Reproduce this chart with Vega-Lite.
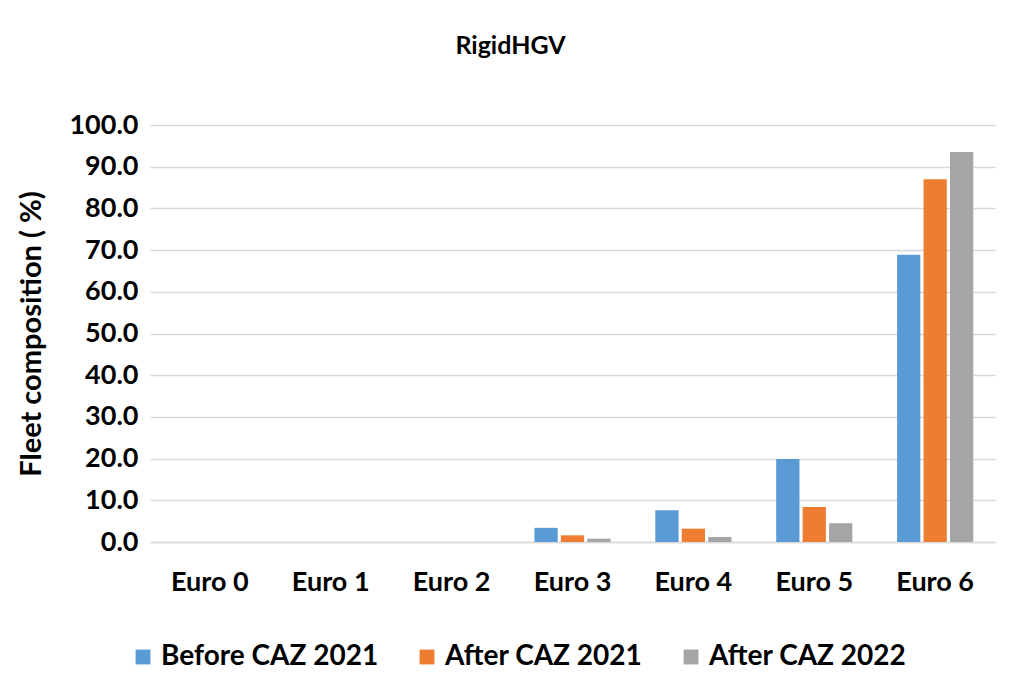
{
  "$schema": "https://vega.github.io/schema/vega-lite/v6.json",
  "width": 845,
  "height": 417,
  "autosize": {"type": "none"},
  "padding": {"left": 150, "top": 125, "right": 15, "bottom": 144},
  "background": "white",
  "title": {"text": "RigidHGV", "font": "Lato", "fontSize": 25, "fontWeight": "bold", "color": "#000000", "anchor": "middle", "dx": -62, "offset": 52},
  "data": {"values": [
    {"euro": "Euro 0", "series": "Before CAZ 2021", "value": 0},
    {"euro": "Euro 0", "series": "After CAZ 2021", "value": 0},
    {"euro": "Euro 0", "series": "After CAZ 2022", "value": 0},
    {"euro": "Euro 1", "series": "Before CAZ 2021", "value": 0},
    {"euro": "Euro 1", "series": "After CAZ 2021", "value": 0},
    {"euro": "Euro 1", "series": "After CAZ 2022", "value": 0},
    {"euro": "Euro 2", "series": "Before CAZ 2021", "value": 0},
    {"euro": "Euro 2", "series": "After CAZ 2021", "value": 0},
    {"euro": "Euro 2", "series": "After CAZ 2022", "value": 0},
    {"euro": "Euro 3", "series": "Before CAZ 2021", "value": 3.4},
    {"euro": "Euro 3", "series": "After CAZ 2021", "value": 1.6},
    {"euro": "Euro 3", "series": "After CAZ 2022", "value": 0.8},
    {"euro": "Euro 4", "series": "Before CAZ 2021", "value": 7.6},
    {"euro": "Euro 4", "series": "After CAZ 2021", "value": 3.2},
    {"euro": "Euro 4", "series": "After CAZ 2022", "value": 1.2},
    {"euro": "Euro 5", "series": "Before CAZ 2021", "value": 19.9},
    {"euro": "Euro 5", "series": "After CAZ 2021", "value": 8.4},
    {"euro": "Euro 5", "series": "After CAZ 2022", "value": 4.5},
    {"euro": "Euro 6", "series": "Before CAZ 2021", "value": 68.9},
    {"euro": "Euro 6", "series": "After CAZ 2021", "value": 87.0},
    {"euro": "Euro 6", "series": "After CAZ 2022", "value": 93.5}
  ]},
  "mark": {"type": "bar"},
  "encoding": {
    "x": {"field": "euro", "type": "nominal", "sort": null,
      "scale": {"paddingInner": 0.37, "paddingOuter": 0.18},
      "axis": {"title": null, "labelAngle": 0, "labelFont": "Lato", "labelFontSize": 27, "labelFontWeight": "bold", "labelColor": "#000000", "labelPadding": 27, "ticks": false, "domainColor": "#d9d9d9", "domainWidth": 1.5, "grid": false}},
    "xOffset": {"field": "series", "type": "nominal", "sort": ["Before CAZ 2021", "After CAZ 2021", "After CAZ 2022"], "scale": {"paddingInner": 0.12}},
    "y": {"field": "value", "type": "quantitative",
      "scale": {"domain": [0, 100]},
      "axis": {"title": "Fleet composition ( %)", "titleFont": "Lato", "titleFontSize": 29, "titleFontWeight": "bold", "titleColor": "#000000", "titlePadding": 22,
        "values": [0, 10, 20, 30, 40, 50, 60, 70, 80, 90, 100], "format": ".1f",
        "labelFont": "Lato", "labelFontSize": 27, "labelFontWeight": "bold", "labelColor": "#000000", "labelPadding": 12,
        "ticks": false, "domain": false, "gridColor": "#d9d9d9", "gridWidth": 1.5}},
    "color": {"field": "series", "type": "nominal",
      "scale": {"domain": ["Before CAZ 2021", "After CAZ 2021", "After CAZ 2022"], "range": ["#5B9BD5", "#ED7D31", "#A5A5A5"]},
      "legend": {"title": null, "orient": "none", "direction": "horizontal", "legendX": -21, "legendY": 518,
        "symbolType": "square", "symbolSize": 220, "symbolStrokeWidth": 0,
        "labelFont": "Lato", "labelFontSize": 28, "labelFontWeight": "bold", "labelColor": "#000000", "columnPadding": 34, "labelLimit": 400}}
  },
  "config": {"view": {"stroke": null}}
}
